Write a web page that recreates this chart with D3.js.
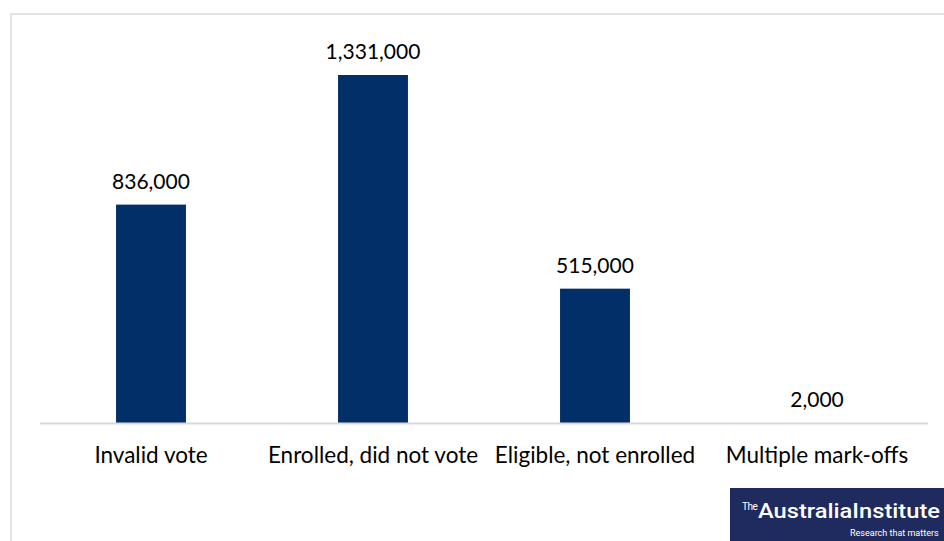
<!DOCTYPE html>
<html>
<head>
<meta charset="utf-8">
<script src="https://cdn.jsdelivr.net/npm/d3@7"></script>
<style>
  html, body { margin: 0; padding: 0; background: #fff; }
  svg { display: block; }
</style>
</head>
<body>
<svg id="chart" width="944" height="541"></svg>
<script>
const categories = ["Invalid vote", "Enrolled, did not vote", "Eligible, not enrolled", "Multiple mark-offs"];
const values = [836000, 1331000, 515000, 2000];

const svg = d3.select("#chart");
const FONT = "Lato, 'Open Sans', sans-serif";

// outer frame (light grey)
svg.append("path")
  .attr("d", "M11,541 V14 H944")
  .attr("fill", "none")
  .attr("stroke", "#e3e3e3")
  .attr("stroke-width", 2);

const x = d3.scaleBand()
  .domain(categories)
  .range([40, 928])
  .paddingInner(0.685)
  .paddingOuter(0.685 / 2);

const y = d3.scaleLinear()
  .domain([0, 1331000])
  .range([423.5, 75]);

// bars
svg.append("g").selectAll("rect")
  .data(categories)
  .join("rect")
  .attr("x", d => x(d))
  .attr("width", x.bandwidth())
  .attr("y", (d, i) => y(values[i]))
  .attr("height", (d, i) => y(0) - y(values[i]))
  .attr("fill", "#032f69");

// baseline
svg.append("line")
  .attr("x1", 40).attr("x2", 928)
  .attr("y1", y(0)).attr("y2", y(0))
  .attr("stroke", "#d9d9d9")
  .attr("stroke-width", 2);

// value labels
const fmt = d3.format(",");
svg.append("g").selectAll("text")
  .data(categories)
  .join("text")
  .attr("x", d => x(d) + x.bandwidth() / 2)
  .attr("y", (d, i) => y(values[i]) - 16)
  .attr("text-anchor", "middle")
  .attr("font-family", FONT)
  .attr("font-size", 21)
  .attr("fill", "#000")
  .text((d, i) => fmt(values[i]));

// category axis labels
const xAxis = d3.axisBottom(x).tickSize(0).tickPadding(0);
const gx = svg.append("g")
  .attr("transform", `translate(0,${y(0)})`)
  .call(xAxis);
gx.select(".domain").remove();
gx.selectAll("text")
  .attr("y", 39)
  .attr("dy", 0)
  .attr("font-family", FONT)
  .attr("font-size", 22.5)
  .attr("fill", "#000");

// logo
const logo = svg.append("g");
logo.append("rect")
  .attr("x", 730).attr("y", 488)
  .attr("width", 214).attr("height", 53)
  .attr("fill", "#1f2b5e");
logo.append("text")
  .attr("x", 742).attr("y", 510)
  .attr("font-family", "Roboto, sans-serif")
  .attr("font-size", 10)
  .attr("letter-spacing", -0.5)
  .attr("fill", "#fff")
  .text("The");
logo.append("text")
  .attr("x", 758).attr("y", 518)
  .attr("font-family", "Roboto, sans-serif")
  .attr("font-size", 20)
  .attr("font-weight", 500)
  .attr("textLength", 182)
  .attr("lengthAdjust", "spacingAndGlyphs")
  .attr("fill", "#fff")
  .text("AustraliaInstitute");
logo.append("text")
  .attr("x", 850).attr("y", 536)
  .attr("font-family", "Roboto, sans-serif")
  .attr("font-size", 9)
  .attr("fill", "#fff")
  .text("Research that matters");
</script>
</body>
</html>
